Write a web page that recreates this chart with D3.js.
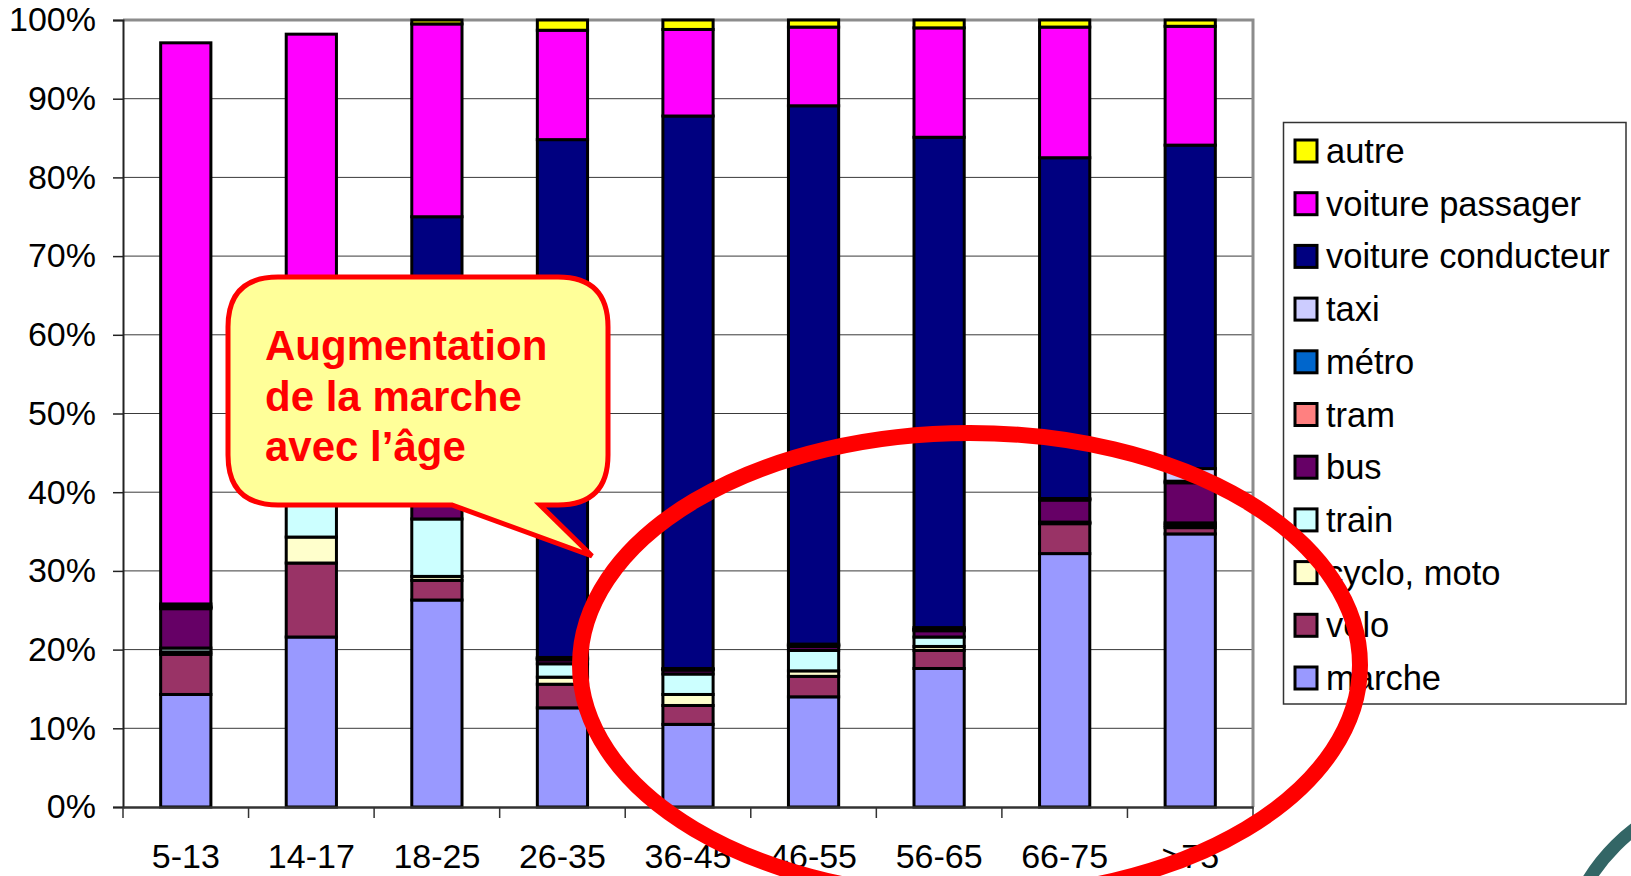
<!DOCTYPE html>
<html><head><meta charset="utf-8">
<script src="https://cdn.jsdelivr.net/npm/d3@7"></script>
<style>
html,body{margin:0;padding:0;background:#fff;overflow:hidden}
svg{display:block;font-family:"Liberation Sans",Arial,sans-serif}
</style></head>
<body><svg id="c" width="1631" height="876"></svg>
<script>
const categories = ["5-13","14-17","18-25","26-35","36-45","46-55","56-65","66-75",">75"];
const seriesNames = ["marche","velo","cyclo, moto","train","bus","tram","métro","taxi","voiture conducteur","voiture passager","autre"];
const marche     = [14.3, 21.6, 26.3, 12.6, 10.5, 14.0, 17.6, 32.2, 34.7];
const velo       = [5.1, 9.4, 2.5, 3.0, 2.4, 2.6, 2.3, 3.8, 0.8];
const cyclo      = [0.3, 3.3, 0.5, 0.9, 1.4, 0.7, 0.5, 0.1, 0.3];
const train      = [0.5, 5.7, 7.3, 1.7, 2.6, 2.6, 1.2, 0.1, 0.3];
const bus        = [5.0, 12.0, 3.4, 0.5, 0.5, 0.5, 0.8, 2.8, 5.1];
const tram       = [0.1, 0.5, 0.3, 0.1, 0.1, 0.1, 0.1, 0.1, 0.2];
const metro      = [0.1, 0.2, 0.2, 0.1, 0.0, 0.1, 0.1, 0.0, 0.0];
const taxi       = [0.1, 0.1, 0.2, 0.1, 0.1, 0.1, 0.2, 0.1, 1.6];
const conducteur = [0.3, 0.6, 34.3, 65.8, 70.2, 68.4, 62.3, 43.3, 41.1];
const passager   = [71.3, 44.8, 24.5, 13.9, 11.0, 10.0, 13.9, 16.6, 15.1];
const autre      = [0, 0, 0.5, 1.3, 1.2, 0.9, 1.0, 0.9, 0.8];
const colors = ["#9999FF","#993366","#FFFFCC","#CCFFFF","#660066","#FF8080","#0066CC","#CCCCFF","#000080","#FF00FF","#FFFF00"];
const yTicks = [0,10,20,30,40,50,60,70,80,90,100];
const tickLabels = yTicks.map(d => d + "%");
const calloutLines = ["Augmentation","de la marche","avec l’âge"];

const allSeries = [marche, velo, cyclo, train, bus, tram, metro, taxi, conducteur, passager, autre];
const rows = categories.map((c, i) => {
  const r = {cat: c};
  seriesNames.forEach((n, k) => r[n] = allSeries[k][i]);
  return r;
});

const svg = d3.select("#c");
const L = 123, R = 1253, T = 20, B = 807;
const x = d3.scaleBand().domain(categories).range([L, R]).paddingInner(0.6).paddingOuter(0.3);
const xb = d3.scaleBand().domain(categories).range([L, R]);
const y = d3.scaleLinear().domain([0, 100]).range([B, T]);

// gridlines
svg.append("g").selectAll("line").data(yTicks.slice(1)).join("line")
  .attr("x1", L).attr("x2", R).attr("y1", d => y(d)).attr("y2", d => y(d))
  .attr("stroke", "#3a3a3a").attr("stroke-width", 1);

// plot frame (top/right gray)
svg.append("path").attr("d", `M${L},${T}H${R}V${B}`).attr("fill", "none")
  .attr("stroke", "#8c8c8c").attr("stroke-width", 3);

// bars
const stack = d3.stack().keys(seriesNames);
const stacked = stack(rows);
svg.append("g").selectAll("g").data(stacked).join("g")
  .attr("fill", (d, k) => colors[k])
  .selectAll("rect").data(d => d).join("rect")
  .attr("x", d => x(d.data.cat))
  .attr("width", x.bandwidth())
  .attr("y", d => y(d[1]))
  .attr("height", d => y(d[0]) - y(d[1]))
  .attr("stroke", "#000").attr("stroke-width", 3);

// axes
const yAxis = d3.axisLeft(y).tickValues(yTicks).tickFormat((d, i) => tickLabels[i]).tickSize(10).tickPadding(17);
const gy = svg.append("g").attr("transform", `translate(${L},0)`).call(yAxis);
gy.select(".domain").attr("stroke", "#222").attr("stroke-width", 2);
gy.selectAll(".tick line").attr("stroke", "#222").attr("stroke-width", 1.5);
gy.selectAll("text").attr("font-size", 34).attr("fill", "#000").attr("font-family", "Liberation Sans, Arial, sans-serif");

const xAxis = d3.axisBottom(xb).tickSize(0).tickPadding(0);
const gx = svg.append("g").attr("transform", `translate(0,${B})`).call(xAxis);
gx.select(".domain").attr("stroke", "#333").attr("stroke-width", 2.5);
gx.selectAll("text").attr("font-size", 34).attr("fill", "#000").attr("dy", null)
  .attr("y", 61).attr("font-family", "Liberation Sans, Arial, sans-serif");
// category boundary ticks
const boundaries = categories.map(c => xb(c)).concat([R]);
svg.append("g").selectAll("line").data(boundaries).join("line")
  .attr("x1", d => d).attr("x2", d => d).attr("y1", B).attr("y2", B + 11)
  .attr("stroke", "#333").attr("stroke-width", 1.5);

// legend
const lg = svg.append("g");
lg.append("rect").attr("x", 1283.5).attr("y", 122.5).attr("width", 342.5).attr("height", 581.5)
  .attr("fill", "#fff").attr("stroke", "#333").attr("stroke-width", 1.5);
const legendOrder = seriesNames.map((n, k) => k).reverse();
const ly = d3.scalePoint().domain(legendOrder).range([151, 678]);
const items = lg.selectAll("g.it").data(legendOrder).join("g").attr("class", "it")
  .attr("transform", k => `translate(0,${ly(k)})`);
items.append("rect").attr("x", 1295).attr("y", -11).attr("width", 22).attr("height", 22)
  .attr("fill", k => colors[k]).attr("stroke", "#000").attr("stroke-width", 3);
items.append("text").attr("x", 1326).attr("y", 12).attr("font-size", 34.5).attr("fill", "#000")
  .text(k => seriesNames[k]);

// callout
const cx0 = 228, cx1 = 608, cy0 = 277, cy1 = 505, rr = 50;
const callout = `M${cx0 + rr},${cy0} H${cx1 - rr} Q${cx1},${cy0} ${cx1},${cy0 + rr} V${cy1 - rr}
 Q${cx1},${cy1} ${cx1 - rr},${cy1} H540 L592,556 L452,${cy1} H${cx0 + rr}
 Q${cx0},${cy1} ${cx0},${cy1 - rr} V${cy0 + rr} Q${cx0},${cy0} ${cx0 + rr},${cy0} Z`;
svg.append("path").attr("d", callout).attr("fill", "#FFFF99").attr("stroke", "#FF0000")
  .attr("stroke-width", 5).attr("stroke-linejoin", "miter");
svg.append("g").selectAll("text").data(calloutLines).join("text")
  .attr("x", 265).attr("y", (d, i) => 360 + i * 50.5)
  .attr("font-size", 42).attr("font-weight", "bold").attr("fill", "#FF0000").text(d => d);

// red ellipse
svg.append("ellipse").attr("cx", 970).attr("cy", 665).attr("rx", 390).attr("ry", 232)
  .attr("fill", "none").attr("stroke", "#FF0000").attr("stroke-width", 16);

// slide decoration arc (corner)
svg.append("circle").attr("cx", 1750).attr("cy", 980).attr("r", 190)
  .attr("fill", "none").attr("stroke", "#336666").attr("stroke-width", 13);
</script></body></html>
